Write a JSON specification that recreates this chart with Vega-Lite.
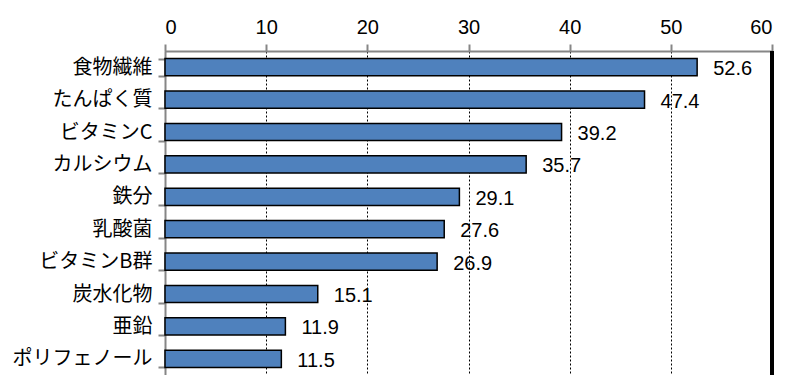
{
  "$schema": "https://vega.github.io/schema/vega-lite/v6.json",
  "autosize": "none",
  "width": 607,
  "height": 324,
  "padding": {"left": 165, "top": 51, "right": 33, "bottom": 0},
  "background": "white",
  "config": {"view": {"stroke": null}},
  "data": {"values": [
    {"item": "食物繊維", "value": 52.6},
    {"item": "たんぱく質", "value": 47.4},
    {"item": "ビタミンC", "value": 39.2},
    {"item": "カルシウム", "value": 35.7},
    {"item": "鉄分", "value": 29.1},
    {"item": "乳酸菌", "value": 27.6},
    {"item": "ビタミンB群", "value": 26.9},
    {"item": "炭水化物", "value": 15.1},
    {"item": "亜鉛", "value": 11.9},
    {"item": "ポリフェノール", "value": 11.5}
  ]},
  "layer": [
    {
      "mark": {"type": "bar", "fill": "#4F81BD", "stroke": "black", "strokeWidth": 1.5},
      "encoding": {
        "y": {
          "field": "item", "type": "nominal", "sort": null,
          "scale": {"paddingInner": 0.47, "paddingOuter": 0.235},
          "axis": {
            "title": null, "domainColor": "#868686", "domainWidth": 2,
            "tickColor": "#868686", "tickWidth": 2, "tickSize": 7, "tickBand": "extent",
            "labelFont": "Noto Sans CJK JP", "labelFontSize": 20, "labelColor": "black",
            "labelPadding": 6
          }
        },
        "x": {
          "field": "value", "type": "quantitative",
          "scale": {"domain": [0, 60]},
          "axis": {
            "orient": "top", "title": null, "values": [0, 10, 20, 30, 40, 50, 60],
            "domainColor": "#868686", "domainWidth": 2,
            "tickColor": "#868686", "tickWidth": 2, "tickSize": 7,
            "labelFont": "Liberation Sans", "labelFontSize": 20, "labelColor": "black",
            "labelPadding": 7,
            "grid": true, "gridColor": "black", "gridDash": [2, 2], "gridWidth": 1
          }
        }
      }
    },
    {
      "mark": {"type": "text", "align": "left", "baseline": "middle", "dx": 16, "dy": 2,
               "font": "Liberation Sans", "fontSize": 20, "color": "black"},
      "encoding": {
        "y": {"field": "item", "type": "nominal", "sort": null},
        "x": {"field": "value", "type": "quantitative"},
        "text": {"field": "value", "type": "quantitative", "format": ".1f"}
      }
    },
    {
      "mark": {"type": "rule", "color": "black", "strokeWidth": 3},
      "encoding": {"x": {"datum": 60}}
    }
  ]
}
